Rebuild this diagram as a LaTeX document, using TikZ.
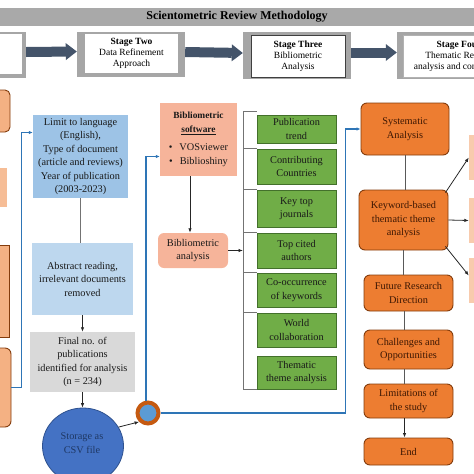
\documentclass[tikz,border=0pt]{standalone}
\usepackage{fontspec}
\setmainfont{Liberation Serif}
\usepackage{tikz}
\usetikzlibrary{arrows.meta,positioning,shapes.geometric,calc}
\definecolor{bandgray}{HTML}{A9A9A9}
\definecolor{stagegray}{HTML}{A6A6A6}
\definecolor{slate}{HTML}{44546A}
\definecolor{blueA}{HTML}{9DC3E6}
\definecolor{blueB}{HTML}{BDD7EE}
\definecolor{boxgray}{HTML}{D9D9D9}
\definecolor{csvblue}{HTML}{4472C4}
\definecolor{csvedge}{HTML}{2F528F}
\definecolor{csvtext}{HTML}{1F3864}
\definecolor{ringor}{HTML}{C55A11}
\definecolor{ringin}{HTML}{5B9BD5}
\definecolor{linkblue}{HTML}{2E75B6}
\definecolor{salmon}{HTML}{F6B49A}
\definecolor{peach}{HTML}{F8CBAD}
\definecolor{leftor}{HTML}{F4B183}
\definecolor{leafgreen}{HTML}{70AD47}
\definecolor{leafedge}{HTML}{43702B}
\definecolor{orangeA}{HTML}{ED7D31}
\definecolor{orangeedge}{HTML}{843C0C}
\definecolor{orangetext}{HTML}{3D1703}
\tikzstyle{band}=[fill=bandgray,minimum width=480,minimum height=18,inner sep=0,font=\fontsize{12}{14}\selectfont\bfseries]
\tikzstyle{stage out}=[fill=stagegray,inner sep=0]
\tikzstyle{stage in}=[fill=white,align=center,inner sep=0,font=\fontsize{9.5}{11}\selectfont]
\tikzstyle{block arrow}=[slate,line width=10pt,-{Triangle[width=17pt,length=11pt,line width=0pt]}]
\tikzstyle{text box}=[align=center,inner sep=0,text=black!90,font=\fontsize{10.3}{13.5}\selectfont]
\tikzstyle{leaf}=[text box,fill=leafgreen,draw=leafedge,line width=0.8pt,minimum width=79]
\tikzstyle{step box}=[text box,fill=orangeA,draw=orangeedge,line width=0.9pt,rounded corners=6pt,text=orangetext,minimum width=89]
\tikzstyle{side box}=[fill=peach,minimum width=62,minimum height=45]
\tikzstyle{left box}=[fill=leftor,minimum width=60]
\tikzstyle{plain arrow}=[black!85,line width=0.8pt,-{Latex[length=4.5pt,width=3.5pt]}]
\tikzstyle{plain line}=[black!55,line width=0.9pt]
\tikzstyle{link}=[linkblue,line width=1.1pt,-{Latex[length=4pt,width=3.5pt]}]
\newcommand{\swhead}[1]{\textbf{\fontsize{9.4}{12}\selectfont #1}}

\begin{document}
\begin{tikzpicture}[x=1pt,y=-1pt]
\useasboundingbox (0,0) rectangle (474,474);
\clip (0,0) rectangle (474,474);

% heading and stages
\node(head)[band] at (237,17) {Scientometric Review Methodology};

\node(s1)[stage out,minimum width=86,minimum height=46] at (-17,55) {};
\node(s1in)[stage in,minimum width=82,minimum height=40] at (-19,54) {};
\node(s2)[stage out,minimum width=108,minimum height=45] at (131,54.5) {};
\node(s2in)[stage in,minimum width=93,minimum height=39] at (131.5,53.5)
    {\textbf{Stage Two}\\Data Refinement\\Approach};
\node(s3)[stage out,minimum width=108,minimum height=47] at (297,55.5) {};
\node(s3in)[stage in,draw=black!75,line width=0.7pt,minimum width=94,minimum height=42] at (298,56)
    {\textbf{Stage Three}\\Bibliometric\\Analysis};
\node(s4)[stage out,minimum width=122,minimum height=47] at (458,55.5) {};
\node(s4in)[stage in,draw=black!30,line width=0.5pt,minimum width=112,minimum height=42] at (459,56)
    {\textbf{Stage Four}\\Thematic Review\\analysis and conclusion};

\draw[block arrow] ([yshift=3pt]s1.east) -- ([yshift=3pt]s2.west);
\draw[block arrow] ([yshift=2.5pt]s2.east) -- ([yshift=2.5pt]s3.west);
\draw[block arrow] ([yshift=3pt]s3.east) -- ([yshift=3pt]s4.west);

% left column (cut off)
\node(lb1)[left box,draw=orangeedge,line width=0.9pt,rounded corners=5pt,minimum height=42] at (-20,111) {};
\node(lb2)[left box,fill=leftor!85,minimum height=39] at (-23,187.5) {};
\node(lb3)[left box,draw=orangeedge,line width=0.7pt,minimum height=92] at (-21,291) {};
\node(lb4)[left box,draw=orangeedge,line width=0.9pt,rounded corners=6pt,minimum height=79] at (-19,387.5) {};

% data refinement
\node(lim)[text box,fill=blueA,minimum width=95,minimum height=83] at (80.5,156.5)
    {Limit to language\\(English),\\Type of document\\(article and reviews)\\Year of publication\\(2003-2023)};
\node(abs)[text box,fill=blueB,minimum width=101,minimum height=72] at (82.5,279)
    {Abstract reading,\\irrelevant documents\\removed};
\node(fin)[text box,fill=boxgray,minimum width=105,minimum height=60] at (82.5,362)
    {Final no. of\\publications\\identified for analysis\\(n = 234)};
\node(csv)[ellipse,fill=csvblue,draw=csvedge,line width=0.8pt,minimum width=81,minimum height=76] at (83,446) {};
\node(csvt)[text box,text=csvtext] at (82,443) {Storage as\\CSV file};
\node(ring)[circle,fill=ringin,draw=ringor,line width=4pt,minimum size=21,inner sep=0] at (148,413) {};

\draw[plain line] (lim.south) -- (lim.south |- abs.north);
\draw[plain arrow] (abs.south) -- (abs.south |- fin.north);
\draw[plain arrow] (fin.south) -- (fin.south |- csv.north);
\draw[plain arrow] (csv.28) -- (ring.225);

% bibliometric analysis
\node(sw)[text box,fill=salmon,minimum width=77,minimum height=73] at (198.5,139.5)
    {\swhead{Bibliometric}\\\swhead{\underline{software}}\\[5pt]\textbullet\hspace{7pt}VOSviewer\\\textbullet\hspace{7pt}Biblioshiny};
\node(ba)[text box,fill=salmon,rounded corners=6pt,minimum width=70,minimum height=35] at (193,250.5)
    {Bibliometric\\analysis};

\node(g1)[leaf,minimum height=28] at (296.5,129) {Publication\\trend};
\node(g2)[leaf,minimum height=35] at (296.5,166.5) {Contributing\\Countries};
\node(g3)[leaf,minimum height=37] at (296.5,208.5) {Key top\\journals};
\node(g4)[leaf,minimum height=35] at (296.5,250.5) {Top cited\\authors};
\node(g5)[leaf,minimum height=34] at (296.5,290) {Co-occurrence\\of keywords};
\node(g6)[leaf,minimum height=34] at (296.5,330) {World\\collaboration};
\node(g7)[leaf,minimum height=33] at (296.5,372.5) {Thematic\\theme analysis};
\coordinate(brk) at (243,111);

\draw[plain arrow] ([xshift=-3pt]sw.south -| ba.north) -- ([xshift=-3pt]ba.north);
\draw[plain arrow] (ba.east) -- (ba.east -| brk);
\draw[plain line] (brk) -- (brk |- g7.south west);
\draw[plain line] (brk) -- (brk -| g1.west);
\draw[plain line] (brk |- g2.north west) -- (g2.north west);
\draw[plain line] (brk |- g3.north west) -- (g3.north west);
\draw[plain line] (brk |- g4.north west) -- (g4.north west);
\draw[plain line] (brk |- g5.north west) -- (g5.north west);
\draw[plain line] (brk |- g6.north west) -- (g6.north west);
\draw[plain line] (brk |- g7.south west) -- (g7.south west);

% thematic review
\node(sys)[step box,minimum width=88,minimum height=52] at (405,129) {Systematic\\Analysis};
\node(kw)[step box,minimum height=60] at (403.5,220) {Keyword-based\\thematic theme\\analysis};
\node(fr)[step box,minimum height=36] at (408.5,293) {Future Research\\Direction};
\node(ch)[step box,minimum height=39] at (408.5,349.5) {Challenges and\\Opportunities};
\node(lts)[step box,minimum height=34] at (408.5,401) {Limitations of\\the study};
\node(end)[step box,minimum height=27] at (408.5,451.5) {End};
\node(r1)[side box] at (500,157.5) {};
\node(r2)[side box] at (500,220.5) {};
\node(r3)[side box] at (500,280.5) {};

\draw[plain line,black!65] (sys.south) -- (sys.south |- kw.north);
\draw[plain line,black!65] (kw.south) -- (kw.south |- fr.north);
\draw[plain line,black!65] ([xshift=-4pt]fr.south) -- ([xshift=-4pt]ch.north);
\draw[plain line,black!65] ([xshift=-4pt]ch.south) -- ([xshift=-4pt]lts.north);
\draw[plain arrow] ([xshift=-4pt]lts.south) -- ([xshift=-4pt]end.north);
\draw[plain arrow] ([xshift=-3pt,yshift=-3pt]kw.north east) -- (r1.west);
\draw[plain arrow] (kw.east) -- (r2.west);
\draw[plain arrow] ([xshift=-3pt,yshift=4pt]kw.south east) -- ([yshift=5pt]r3.west);

% blue links
\draw[link] (lb4.east) -| ([xshift=-11pt,yshift=24pt]lim.west) -- ([yshift=24pt]lim.west);
\draw[link] ([xshift=-2pt]ring.north) |- ([yshift=-17pt]sw.west);
\draw[link] (ring.east) -| ([xshift=-15pt]sys.west) -- (sys.west);

\end{tikzpicture}
\end{document}
